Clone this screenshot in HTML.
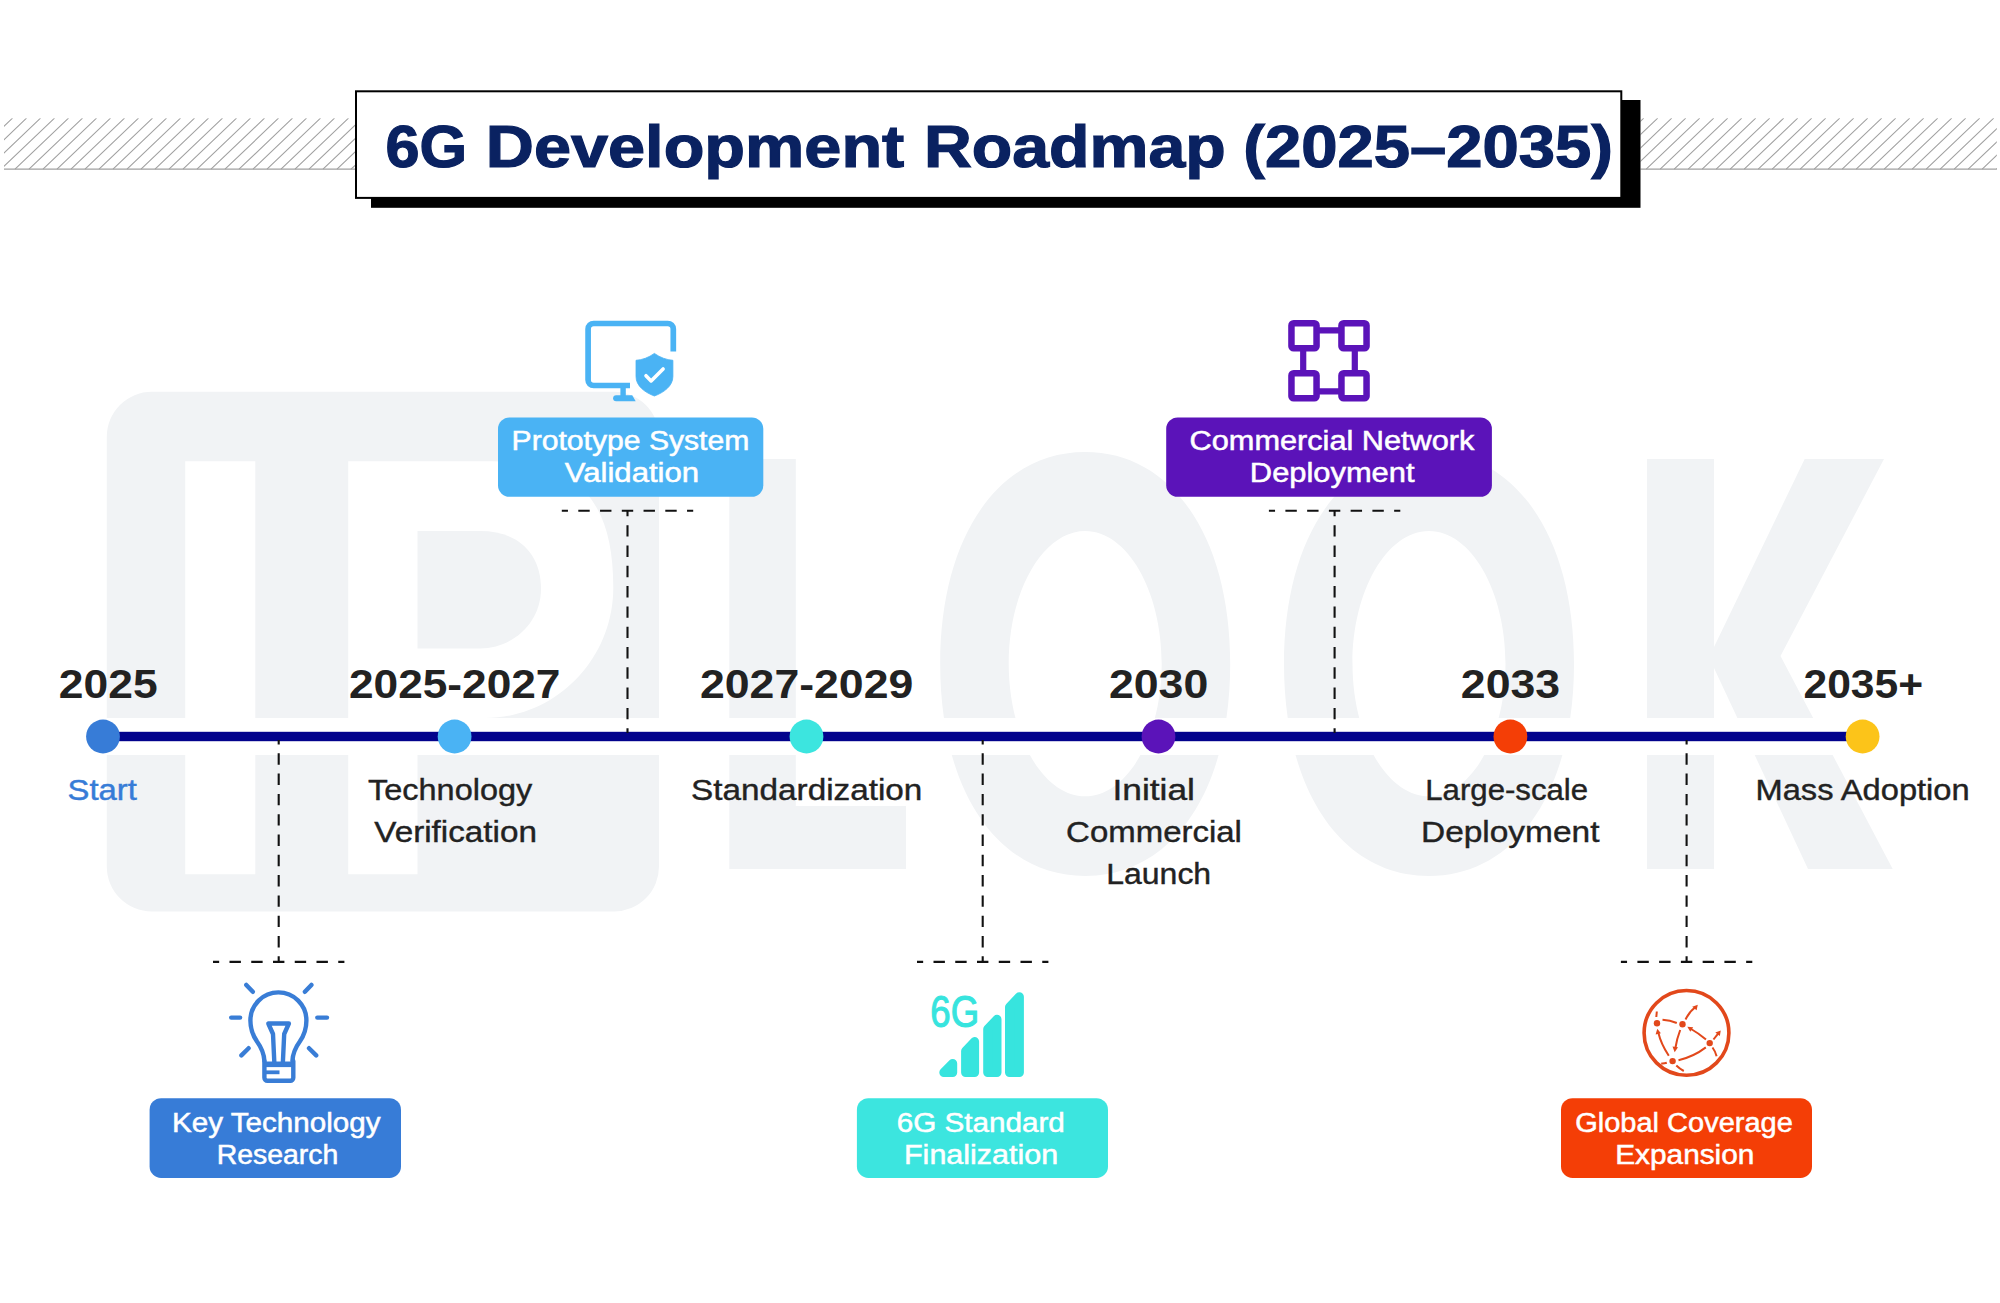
<!DOCTYPE html>
<html lang="en"><head><meta charset="utf-8"><title>6G Development Roadmap (2025–2035)</title>
<style>html,body{margin:0;padding:0;background:#fff}body{width:2000px;height:1303px;overflow:hidden}svg{display:block}text{font-family:'Liberation Sans', sans-serif;white-space:pre}</style>
</head><body>
<svg width="2000" height="1303" viewBox="0 0 2000 1303">
<rect width="2000" height="1303" fill="#fff"/>
<g fill="#f1f3f5">
<path fill-rule="evenodd" d="M151.8 391.8H614a45 45 0 0 1 45 45V866.5a45 45 0 0 1 -45 45H151.8a45 45 0 0 1 -45 -45V436.8a45 45 0 0 1 45 -45ZM185.2 461.3H255.3V874.3H185.2ZM348.2 461.3H492C576.7 461.3 613.3 499 613.3 587.5C613.3 659.5 555.7 718 485 718H417.5V874.3H348.2Z"/>
<path d="M417.5 531H480C517.8 531 541 553 541 589C541 621.8 513.7 648.4 480 648.4H417.5Z"/>
<path d="M729.3 459H795.8V806H906V869H729.3Z"/>
<path fill-rule="evenodd" d="M940.2 664.0C940.2 536.8 998.2 452.0 1085.2 452.0C1172.2 452.0 1230.2 536.8 1230.2 664.0C1230.2 791.2 1172.2 876.0 1085.2 876.0C998.2 876.0 940.2 791.2 940.2 664.0ZM1008.7 663.6C1008.7 590.6 1043.1 530.9 1085.2 530.9C1127.3 530.9 1161.7 590.6 1161.7 663.6C1161.7 736.6 1127.3 796.3 1085.2 796.3C1043.1 796.3 1008.7 736.6 1008.7 663.6Z"/>
<path fill-rule="evenodd" d="M1284.0 664.0C1284.0 536.8 1342.0 452.0 1429.0 452.0C1516.0 452.0 1574.0 536.8 1574.0 664.0C1574.0 791.2 1516.0 876.0 1429.0 876.0C1342.0 876.0 1284.0 791.2 1284.0 664.0ZM1352.5 663.6C1352.5 590.6 1386.9 530.9 1429.0 530.9C1471.1 530.9 1505.5 590.6 1505.5 663.6C1505.5 736.6 1471.1 796.3 1429.0 796.3C1386.9 796.3 1352.5 736.6 1352.5 663.6Z"/>
<path d="M1647 459H1714V647L1804.7 459H1884L1780.5 656L1892.7 869H1808L1714 668V869H1647Z"/>
</g>
<rect x="90" y="718" width="1830" height="37" fill="#fff"/>
<clipPath id="hc4"><rect x="4" y="118.2" width="351" height="51.999999999999986"/></clipPath>
<g clip-path="url(#hc4)" stroke="#a0a0a0" stroke-width="1.1" fill="none">
<path d="M-15.5 118.2L-69.0 169.2M-1.5 118.2L-55.0 169.2M12.5 118.2L-41.0 169.2M26.5 118.2L-27.0 169.2M40.5 118.2L-13.0 169.2M54.5 118.2L1.0 169.2M68.5 118.2L15.0 169.2M82.5 118.2L29.0 169.2M96.5 118.2L43.0 169.2M110.5 118.2L57.0 169.2M124.5 118.2L71.0 169.2M138.5 118.2L85.0 169.2M152.5 118.2L99.0 169.2M166.5 118.2L113.0 169.2M180.5 118.2L127.0 169.2M194.5 118.2L141.0 169.2M208.5 118.2L155.0 169.2M222.5 118.2L169.0 169.2M236.5 118.2L183.0 169.2M250.5 118.2L197.0 169.2M264.5 118.2L211.0 169.2M278.5 118.2L225.0 169.2M292.5 118.2L239.0 169.2M306.5 118.2L253.0 169.2M320.5 118.2L267.0 169.2M334.5 118.2L281.0 169.2M348.5 118.2L295.0 169.2M362.5 118.2L309.0 169.2M376.5 118.2L323.0 169.2M390.5 118.2L337.0 169.2M404.5 118.2L351.0 169.2M418.5 118.2L365.0 169.2M432.5 118.2L379.0 169.2"/>
</g>
<path d="M4 169.2H355" stroke="#a0a0a0" stroke-width="1.2"/>
<clipPath id="hc1640"><rect x="1640.5" y="118.2" width="356.29999999999995" height="51.999999999999986"/></clipPath>
<g clip-path="url(#hc1640)" stroke="#a0a0a0" stroke-width="1.1" fill="none">
<path d="M1615.7 118.2L1562.2 169.2M1629.7 118.2L1576.2 169.2M1643.7 118.2L1590.2 169.2M1657.7 118.2L1604.2 169.2M1671.7 118.2L1618.2 169.2M1685.7 118.2L1632.2 169.2M1699.7 118.2L1646.2 169.2M1713.7 118.2L1660.2 169.2M1727.7 118.2L1674.2 169.2M1741.7 118.2L1688.2 169.2M1755.7 118.2L1702.2 169.2M1769.7 118.2L1716.2 169.2M1783.7 118.2L1730.2 169.2M1797.7 118.2L1744.2 169.2M1811.7 118.2L1758.2 169.2M1825.7 118.2L1772.2 169.2M1839.7 118.2L1786.2 169.2M1853.7 118.2L1800.2 169.2M1867.7 118.2L1814.2 169.2M1881.7 118.2L1828.2 169.2M1895.7 118.2L1842.2 169.2M1909.7 118.2L1856.2 169.2M1923.7 118.2L1870.2 169.2M1937.7 118.2L1884.2 169.2M1951.7 118.2L1898.2 169.2M1965.7 118.2L1912.2 169.2M1979.7 118.2L1926.2 169.2M1993.7 118.2L1940.2 169.2M2007.7 118.2L1954.2 169.2M2021.7 118.2L1968.2 169.2M2035.7 118.2L1982.2 169.2M2049.7 118.2L1996.2 169.2M2063.7 118.2L2010.2 169.2M2077.7 118.2L2024.2 169.2"/>
</g>
<path d="M1640.5 169.2H1996.8" stroke="#a0a0a0" stroke-width="1.2"/>
<rect x="371" y="100" width="1269.5" height="107.8" fill="#000"/>
<rect x="356" y="91.3" width="1265.3" height="106.6" fill="#fff" stroke="#000" stroke-width="2"/>
<text x="385.57" y="167.0" font-size="59.5" font-weight="700" fill="#0a2261" stroke="#0a2261" stroke-width="1.2" textLength="81.66" lengthAdjust="spacingAndGlyphs">6G</text>
<text x="485.81" y="167.0" font-size="59.5" font-weight="700" fill="#0a2261" stroke="#0a2261" stroke-width="1.2" textLength="418.50" lengthAdjust="spacingAndGlyphs">Development</text>
<text x="923.94" y="167.0" font-size="59.5" font-weight="700" fill="#0a2261" stroke="#0a2261" stroke-width="1.2" textLength="301.78" lengthAdjust="spacingAndGlyphs">Roadmap</text>
<text x="1243.28" y="167.0" font-size="59.5" font-weight="700" fill="#0a2261" stroke="#0a2261" stroke-width="1.2" textLength="369.67" lengthAdjust="spacingAndGlyphs">(2025–2035)</text>
<rect x="103" y="731.8" width="1759.6" height="9.4" fill="#03038c"/>
<path d="M561.8 510.7H693.2" stroke="#111" stroke-width="2.1" fill="none" stroke-dasharray="11.4 10.35" stroke-dashoffset="5.25"/>
<path d="M627.5 510.7V733" stroke="#111" stroke-width="2.1" fill="none" stroke-dasharray="11.4 8.9" stroke-dashoffset="5.8"/>
<path d="M1268.9 510.7H1400.3" stroke="#111" stroke-width="2.1" fill="none" stroke-dasharray="11.4 10.35" stroke-dashoffset="5.25"/>
<path d="M1334.6 510.7V733" stroke="#111" stroke-width="2.1" fill="none" stroke-dasharray="11.4 8.9" stroke-dashoffset="5.8"/>
<path d="M213.0 961.9H344.4" stroke="#111" stroke-width="2.1" fill="none" stroke-dasharray="11.4 10.35" stroke-dashoffset="5.25"/>
<path d="M278.7 961.9V740" stroke="#111" stroke-width="2.1" fill="none" stroke-dasharray="11.4 8.9" stroke-dashoffset="5.8"/>
<path d="M917.0 961.9H1048.4" stroke="#111" stroke-width="2.1" fill="none" stroke-dasharray="11.4 10.35" stroke-dashoffset="5.25"/>
<path d="M982.7 961.9V740" stroke="#111" stroke-width="2.1" fill="none" stroke-dasharray="11.4 8.9" stroke-dashoffset="5.8"/>
<path d="M1620.9 961.9H1752.3" stroke="#111" stroke-width="2.1" fill="none" stroke-dasharray="11.4 10.35" stroke-dashoffset="5.25"/>
<path d="M1686.6 961.9V740" stroke="#111" stroke-width="2.1" fill="none" stroke-dasharray="11.4 8.9" stroke-dashoffset="5.8"/>
<circle cx="103" cy="736.5" r="16.9" fill="#377cd7"/>
<circle cx="454.6" cy="736.5" r="16.9" fill="#4ab3f4"/>
<circle cx="806.5" cy="736.5" r="16.9" fill="#3ce5df"/>
<circle cx="1158.5" cy="736.5" r="16.9" fill="#5b13b9"/>
<circle cx="1510.4" cy="736.5" r="16.9" fill="#f43e06"/>
<circle cx="1862.6" cy="736.5" r="16.9" fill="#fcc419"/>
<text x="58.86" y="697.8" font-size="41" font-weight="700" fill="#222222" textLength="98.77" lengthAdjust="spacingAndGlyphs">2025</text>
<text x="348.96" y="697.8" font-size="41" font-weight="700" fill="#222222" textLength="211.52" lengthAdjust="spacingAndGlyphs">2025-2027</text>
<text x="699.95" y="697.8" font-size="41" font-weight="700" fill="#222222" textLength="213.37" lengthAdjust="spacingAndGlyphs">2027-2029</text>
<text x="1108.95" y="697.8" font-size="41" font-weight="700" fill="#222222" textLength="99.34" lengthAdjust="spacingAndGlyphs">2030</text>
<text x="1460.85" y="697.8" font-size="41" font-weight="700" fill="#222222" textLength="99.27" lengthAdjust="spacingAndGlyphs">2033</text>
<text x="1803.51" y="697.8" font-size="41" font-weight="700" fill="#222222" textLength="119.62" lengthAdjust="spacingAndGlyphs">2035+</text>
<text x="67.61" y="799.5" font-size="29.5" font-weight="400" fill="#377cd7" stroke="#377cd7" stroke-width="0.45" textLength="69.28" lengthAdjust="spacingAndGlyphs">Start</text>
<text x="368.10" y="799.5" font-size="29.5" font-weight="400" fill="#222222" stroke="#222222" stroke-width="0.4" textLength="164.13" lengthAdjust="spacingAndGlyphs">Technology</text>
<text x="374.33" y="841.7" font-size="29.5" font-weight="400" fill="#222222" stroke="#222222" stroke-width="0.4" textLength="162.66" lengthAdjust="spacingAndGlyphs">Verification</text>
<text x="691.05" y="799.5" font-size="29.5" font-weight="400" fill="#222222" stroke="#222222" stroke-width="0.4" textLength="231.32" lengthAdjust="spacingAndGlyphs">Standardization</text>
<text x="1112.48" y="799.5" font-size="29.5" font-weight="400" fill="#222222" stroke="#222222" stroke-width="0.4" textLength="82.44" lengthAdjust="spacingAndGlyphs">Initial</text>
<text x="1066.10" y="841.7" font-size="29.5" font-weight="400" fill="#222222" stroke="#222222" stroke-width="0.4" textLength="175.84" lengthAdjust="spacingAndGlyphs">Commercial</text>
<text x="1106.26" y="883.7" font-size="29.5" font-weight="400" fill="#222222" stroke="#222222" stroke-width="0.4" textLength="104.91" lengthAdjust="spacingAndGlyphs">Launch</text>
<text x="1425.30" y="799.5" font-size="29.5" font-weight="400" fill="#222222" stroke="#222222" stroke-width="0.4" textLength="162.79" lengthAdjust="spacingAndGlyphs">Large-scale</text>
<text x="1420.99" y="841.7" font-size="29.5" font-weight="400" fill="#222222" stroke="#222222" stroke-width="0.4" textLength="178.48" lengthAdjust="spacingAndGlyphs">Deployment</text>
<text x="1755.53" y="799.5" font-size="29.5" font-weight="400" fill="#222222" stroke="#222222" stroke-width="0.4" textLength="214.18" lengthAdjust="spacingAndGlyphs">Mass Adoption</text>
<rect x="498" y="417.5" width="265.3" height="79.3" rx="11.5" fill="#4ab3f4"/>
<text x="511.61" y="450.1" font-size="26.8" font-weight="400" fill="#fff" stroke="#fff" stroke-width="0.5" textLength="237.71" lengthAdjust="spacingAndGlyphs">Prototype System</text>
<text x="564.77" y="482.4" font-size="26.8" font-weight="400" fill="#fff" stroke="#fff" stroke-width="0.5" textLength="134.37" lengthAdjust="spacingAndGlyphs">Validation</text>
<rect x="1166.2" y="417.5" width="325.7" height="79.3" rx="11.5" fill="#5b13b9"/>
<text x="1189.63" y="450.1" font-size="26.8" font-weight="400" fill="#fff" stroke="#fff" stroke-width="0.5" textLength="284.79" lengthAdjust="spacingAndGlyphs">Commercial Network</text>
<text x="1249.89" y="482.4" font-size="26.8" font-weight="400" fill="#fff" stroke="#fff" stroke-width="0.5" textLength="164.59" lengthAdjust="spacingAndGlyphs">Deployment</text>
<rect x="149.6" y="1098.2" width="251.4" height="79.7" rx="11.5" fill="#377cd7"/>
<text x="172.13" y="1132.0" font-size="26.8" font-weight="400" fill="#fff" stroke="#fff" stroke-width="0.5" textLength="208.36" lengthAdjust="spacingAndGlyphs">Key Technology</text>
<text x="216.67" y="1164.0" font-size="26.8" font-weight="400" fill="#fff" stroke="#fff" stroke-width="0.5" textLength="121.71" lengthAdjust="spacingAndGlyphs">Research</text>
<rect x="856.9" y="1098.2" width="251.1" height="79.7" rx="11.5" fill="#3ce5df"/>
<text x="896.66" y="1132.0" font-size="26.8" font-weight="400" fill="#fff" stroke="#fff" stroke-width="0.5" textLength="168.09" lengthAdjust="spacingAndGlyphs">6G Standard</text>
<text x="904.00" y="1164.0" font-size="26.8" font-weight="400" fill="#fff" stroke="#fff" stroke-width="0.5" textLength="154.23" lengthAdjust="spacingAndGlyphs">Finalization</text>
<rect x="1561" y="1098.2" width="251.0" height="79.7" rx="11.5" fill="#f43e06"/>
<text x="1575.25" y="1132.0" font-size="26.8" font-weight="400" fill="#fff" stroke="#fff" stroke-width="0.5" textLength="217.53" lengthAdjust="spacingAndGlyphs">Global Coverage</text>
<text x="1615.22" y="1164.0" font-size="26.8" font-weight="400" fill="#fff" stroke="#fff" stroke-width="0.5" textLength="139.17" lengthAdjust="spacingAndGlyphs">Expansion</text>
<!-- monitor + shield icon -->
<g fill="none" stroke="#4ab3f4" stroke-width="5.7">
<path d="M630 385.5H593.7a5.6 5.6 0 0 1 -5.6 -5.6V329.1a5.6 5.6 0 0 1 5.6 -5.6H667.7a5.6 5.6 0 0 1 5.6 5.6V351.5"/>
<path d="M623.1 386V397" stroke-width="5.4"/>
<path d="M616.1 395.3H632.2L635.7 401.3H616.1a3 3 0 0 1 0 -6Z" fill="#4ab3f4" stroke="none"/>
</g>
<path d="M654.4 353.4C648.5 357.6 642.5 359.8 636 360.3V376.5C636 386 645 392.5 654.4 396C663.8 392.5 672.9 386 672.9 376.5V360.3C666.4 359.8 660.3 357.6 654.4 353.4Z" fill="#fff" stroke="#fff" stroke-width="9.5" stroke-linejoin="round"/>
<path d="M654.4 353.4C648.5 357.6 642.5 359.8 636 360.3V376.5C636 386 645 392.5 654.4 396C663.8 392.5 672.9 386 672.9 376.5V360.3C666.4 359.8 660.3 357.6 654.4 353.4Z" fill="#4ab3f4" stroke="#4ab3f4" stroke-width="0.8" stroke-linejoin="round"/>
<path d="M646 375.7L651.1 380.9L663.1 368.9" fill="none" stroke="#fff" stroke-width="3.6" stroke-linecap="round" stroke-linejoin="round"/>

<!-- network nodes icon -->
<g fill="none" stroke="#5b13b9" stroke-width="6.5">
<rect x="1291.45" y="323.25" width="25.1" height="25.1" rx="2.2"/>
<rect x="1341.45" y="323.25" width="25.1" height="25.1" rx="2.2"/>
<rect x="1291.45" y="373.25" width="25.1" height="25.1" rx="2.2"/>
<rect x="1341.45" y="373.25" width="25.1" height="25.1" rx="2.2"/>
<path d="M1319 330.3H1339M1319 391.4H1339" stroke-width="6.3"/>
<path d="M1303.2 351V371M1354.8 351V371" stroke-width="6.2"/>
</g>

<!-- light bulb icon -->
<g fill="none" stroke="#397dd6" stroke-width="4.4" stroke-linecap="round" stroke-linejoin="round">
<path d="M264.4 1061C264 1052 261 1047 257 1041.5C252.5 1035 250.4 1028 250.4 1020.4A28 28 0 0 1 306.4 1020.4C306.4 1028 304.3 1035 299.8 1041.5C295.800 1047 292.800 1052 292.400 1061"/>
<path d="M264.4 1061V1077.700a3 3 0 0 0 3 3H290.300a3 3 0 0 0 3 -3V1061"/>
<path d="M264.4 1064.3H293.3" stroke-width="5.6" stroke-linecap="butt"/>
<path d="M266 1072.3H279.5" stroke-width="3.8" stroke-linecap="butt"/>
<path d="M274.3 1062L273 1034L268.300 1023.500H288.900L284.200 1034L282.900 1062" stroke-linecap="butt"/>
<path d="M246.3 984.900L252.800 991.800M311.400 984.900L304.900 991.800M231.200 1017.600H240.100M317.300 1017.600H327M241.400 1055.400L248.600 1048.200M316.200 1055.400L309 1048.200"/>
</g>

<!-- 6G signal icon -->
<g fill="#37e4de" stroke="#37e4de" stroke-width="9" stroke-linejoin="round">
<path d="M943.8 1072.5L952.7 1063.5V1072.5Z"/>
<path d="M965.6 1072.5V1051L974.6 1041.5V1072.5Z"/>
<path d="M987.7 1072.5V1029.1L997 1019.3V1072.5Z"/>
<path d="M1009.5 1072.5V1007.1L1019.4 996.7V1072.5Z"/>
</g>
<text x="930.3" y="1027.4" font-size="44.6" font-weight="400" fill="#37e4de" stroke="#37e4de" stroke-width="1.1" textLength="48.8" lengthAdjust="spacingAndGlyphs">6G</text>

<!-- globe icon -->
<g fill="none" stroke="#e2481b" stroke-linecap="butt">
<circle cx="1686.500" cy="1032.900" r="42.400" stroke-width="3.6"/>
<g stroke-width="2">
<path d="M1662.500 1019.800Q1670 1020.300 1676.800 1023"/>
<path d="M1685.500 1019.500Q1689.500 1011.500 1695 1007.500"/>
<path d="M1680.200 1030Q1676.800 1039 1675.500 1047.500"/>
<path d="M1706 1039.600Q1699 1033.500 1690.300 1028.500"/>
<path d="M1713.500 1039.500L1718.300 1033.300"/>
<path d="M1712.500 1047.500Q1715.500 1051.500 1716.600 1056.300"/>
<path d="M1678.500 1060.300Q1694 1056.500 1705.800 1047.400"/>
<path d="M1668.800 1055.800Q1661 1044 1658.300 1032.500"/>
<path d="M1666.800 1062.800Q1664 1063.800 1661.200 1063.500"/>
<path d="M1676.300 1065.500Q1680 1069 1683.800 1071"/>
<path d="M1656.300 1017L1656.800 1011.500"/>
</g>
</g>
<g fill="#e2481b">
<circle cx="1657" cy="1023.300" r="3.200"/>
<circle cx="1682.500" cy="1024.200" r="3.200"/>
<circle cx="1709.700" cy="1043.100" r="3.200"/>
<circle cx="1672.600" cy="1061.100" r="3.200"/>
<path d="M1697.800 1004.800L1696.600 1010.300L1692.200 1006.800Z"/>
<path d="M1674.700 1052.300L1672.500 1046.500L1678 1047.300Z"/>
<path d="M1687.300 1026.800L1693.200 1027.300L1690.300 1031.800Z"/>
<path d="M1720.800 1030.500L1719.800 1036L1715.300 1032.600Z"/>
<path d="M1657.300 1028.800L1660.900 1033.300L1655.600 1034.500Z"/>
</g>

</svg>
</body></html>
